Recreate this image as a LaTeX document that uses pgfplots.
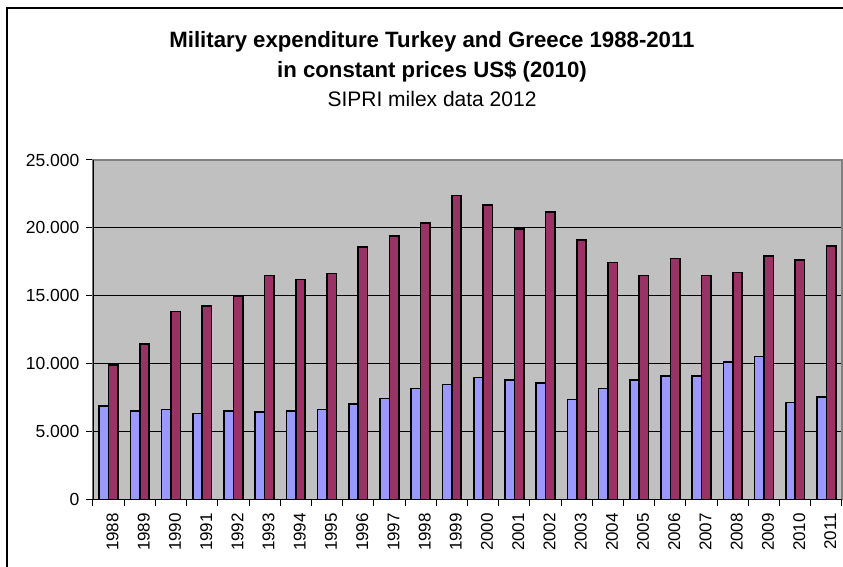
\documentclass[border=0pt]{standalone}
\usepackage{fontspec}
\setmainfont{Liberation Sans}
\usepackage{pgfplots}
\pgfplotsset{compat=1.18}
\definecolor{greece}{HTML}{9999FF}
\definecolor{turkey}{HTML}{993366}
\definecolor{plotbg}{HTML}{C0C0C0}
\definecolor{boxgray}{HTML}{808080}

\begin{document}
\begin{tikzpicture}
\useasboundingbox (0pt,0pt) rectangle (421.5pt,283.5pt);
% chart frame (cut off at right and bottom)
\draw[line width=0.7pt] (3.5pt,0pt) -- (3.5pt,279.5pt) -- (421.5pt,279.5pt);

\node[anchor=base, font=\bfseries\fontsize{11.1}{13}\selectfont] at (216pt,259.5pt) {Military expenditure Turkey and Greece 1988-2011};
\node[anchor=base, font=\bfseries\fontsize{11.1}{13}\selectfont] at (216pt,244.5pt) {in constant prices US\$ (2010)};
\node[anchor=base, font=\fontsize{10.5}{12}\selectfont] at (216pt,230pt) {SIPRI milex data 2012};

\begin{axis}[
    at={(46.5pt,33.75pt)}, anchor=south west,
    scale only axis,
    width=374.5pt, height=169.75pt,
    xmin=-0.5, xmax=23.5,
    ymin=0, ymax=25000,
    ybar=0pt, bar width=4.7pt,
    axis on top=false,
    axis background/.style={fill=plotbg},
    axis line style={draw=boxgray, line width=0.6pt},
    tick pos=left,
    ymajorgrids,
    major grid style={black, line width=0.5pt},
    ytick={0,5000,10000,15000,20000,25000},
    scaled y ticks=false,
    /pgf/number format/fixed,
    /pgf/number format/1000 sep={.},
    /pgf/number format/assume math mode=true,
    y tick label style={font=\fontsize{8.75}{10}\selectfont},
    ytick style={black, line width=0.5pt},
    tick align=outside, major tick length=3.3pt,
    xtick={0,...,23},
    xticklabels={1988,1989,1990,1991,1992,1993,1994,1995,1996,1997,1998,1999,2000,2001,2002,2003,2004,2005,2006,2007,2008,2009,2010,2011},
    x tick label style={rotate=90, anchor=east, yshift=-2pt, font=\fontsize{8.5}{10}\selectfont},
    xtick style={draw=none},
    extra x ticks={-0.5,0.5,...,23.5},
    extra x tick labels={},
    extra x tick style={xtick style={draw=black, line width=0.5pt}},
]
\addplot[ybar, fill=greece, draw=black, line width=0.8pt] coordinates {
    (0,6900) (1,6530) (2,6630) (3,6330) (4,6530) (5,6430) (6,6530) (7,6630)
    (8,7020) (9,7430) (10,8170) (11,8460) (12,8970) (13,8780) (14,8580) (15,7360)
    (16,8170) (17,8780) (18,9100) (19,9100) (20,10120) (21,10540) (22,7140) (23,7530)
};
\addplot[ybar, fill=turkey, draw=black, line width=0.8pt] coordinates {
    (0,9900) (1,11470) (2,13840) (3,14250) (4,14990) (5,16500) (6,16210) (7,16630)
    (8,18580) (9,19390) (10,20340) (11,22400) (12,21690) (13,19930) (14,21150) (15,19100)
    (16,17460) (17,16500) (18,17750) (19,16500) (20,16720) (21,17950) (22,17650) (23,18680)
};
\draw[black, line width=0.6pt] (rel axis cs:0,1) -- (rel axis cs:0,0) -- (rel axis cs:1,0);
\end{axis}
\end{tikzpicture}
\end{document}
